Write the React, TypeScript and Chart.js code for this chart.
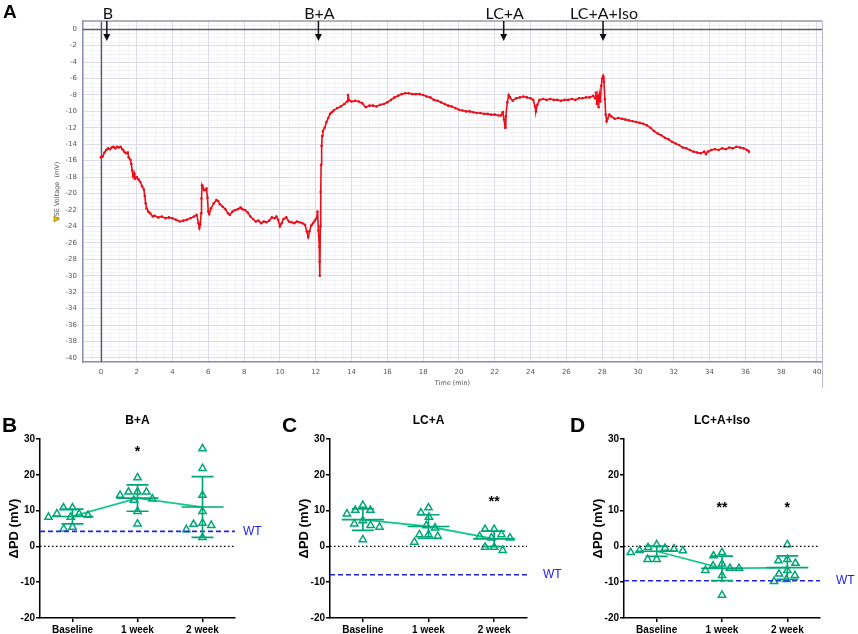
import React, { useEffect, useRef } from 'react';
import { Chart, registerables } from 'chart.js';

Chart.register(...registerables);

// ---------- Panel A: ISE voltage trace ----------
const traceTime = [
  0, 0.1, 0.2, 0.3, 0.4, 0.5, 0.6, 0.7, 0.8, 0.9,
  1.0, 1.1, 1.2, 1.3, 1.4, 1.5, 1.55, 1.65, 1.7, 1.75,
  1.8, 1.85, 1.9, 2.0, 2.1, 2.2, 2.3, 2.4, 2.45, 2.5,
  2.55, 2.65, 2.75, 2.9, 3.0, 3.2, 3.4, 3.6, 3.8, 4.0,
  4.2, 4.4, 4.6, 4.8, 5.0, 5.2, 5.35, 5.45, 5.5, 5.55,
  5.6, 5.62, 5.65, 5.7, 5.8, 5.9, 5.95, 6.0, 6.05, 6.15,
  6.3, 6.45, 6.55, 6.65, 6.8, 6.95, 7.1, 7.2, 7.35, 7.5,
  7.65, 7.8, 7.9, 8.05, 8.2, 8.35, 8.5, 8.65, 8.8, 8.95,
  9.1, 9.25, 9.4, 9.55, 9.7, 9.8, 9.9, 10.0, 10.1, 10.2,
  10.35, 10.5, 10.65, 10.8, 10.95, 11.1, 11.25, 11.4, 11.5, 11.58,
  11.65, 11.75, 11.85, 11.95, 12.05, 12.1, 12.15, 12.2, 12.22, 12.23,
  12.26, 12.28, 12.3, 12.33, 12.36, 12.4, 12.5, 12.6, 12.7, 12.8,
  12.9, 13.0, 13.2, 13.4, 13.6, 13.75, 13.8, 13.85, 14.0, 14.2,
  14.4, 14.6, 14.8, 15.0, 15.2, 15.4, 15.6, 15.8, 16.0, 16.2,
  16.4, 16.6, 16.8, 17.0, 17.2, 17.4, 17.6, 17.8, 18.0, 18.2,
  18.4, 18.6, 18.8, 19.0, 19.2, 19.4, 19.6, 19.8, 20.0, 20.2,
  20.4, 20.6, 20.8, 21.0, 21.2, 21.4, 21.6, 21.8, 22.0, 22.2,
  22.35, 22.45, 22.52, 22.58, 22.62, 22.7, 22.78, 22.85, 23.0, 23.2,
  23.4, 23.6, 23.8, 24.0, 24.15, 24.25, 24.3, 24.38, 24.5, 24.7,
  24.9, 25.1, 25.3, 25.5, 25.7, 25.9, 26.1, 26.3, 26.5, 26.7,
  26.9, 27.1, 27.3, 27.5, 27.6, 27.65, 27.7, 27.75, 27.8, 27.85,
  27.9, 27.95, 28.0, 28.05, 28.1, 28.15, 28.2, 28.25, 28.3, 28.4,
  28.5, 28.7, 28.9, 29.1, 29.3, 29.5, 29.7, 29.9, 30.1, 30.3,
  30.5, 30.7, 30.9, 31.1, 31.3, 31.5, 31.7, 31.9, 32.1, 32.3,
  32.5, 32.7, 32.9, 33.1, 33.3, 33.5, 33.7, 33.8, 33.9, 34.1,
  34.3, 34.5, 34.7, 34.9, 35.1, 35.3, 35.5, 35.7, 35.9, 36.1,
  36.2,
];
const traceMv = [
  -15.6, -15.5, -15.0, -14.7, -14.5, -14.6, -14.4, -14.3, -14.5, -14.3,
  -14.4, -14.3, -14.6, -14.9, -15.1, -15.0, -15.6, -15.9, -16.4, -17.2,
  -17.9, -17.5, -18.2, -18.0, -18.3, -18.6, -19.1, -19.5, -20.3, -21.2,
  -21.8, -22.2, -22.4, -22.8, -22.7, -22.9, -22.8, -23.0, -22.9, -23.0,
  -23.2, -23.4, -23.3, -23.2, -23.0, -22.8, -22.6, -23.6, -24.2, -23.8,
  -22.4, -20.6, -19.0, -19.3, -19.6, -19.4, -20.5, -22.2, -22.5, -21.8,
  -21.2, -20.8, -20.9, -21.3, -21.6, -21.9, -22.4, -22.6, -22.2, -22.0,
  -21.9, -21.7, -21.9, -22.0, -22.3, -22.8, -23.1, -23.4, -23.3, -23.6,
  -23.4, -23.5, -23.3, -22.9, -23.0, -22.8, -23.2, -24.0, -23.6, -23.1,
  -22.9, -23.4, -23.5, -23.6, -23.4, -23.5, -23.6, -23.8, -24.6, -25.3,
  -24.6, -23.9, -23.6, -23.3, -23.0, -22.2, -24.5, -26.5, -28.3, -30.0,
  -24.0, -19.8, -16.5, -14.2, -13.0, -12.4, -12.0, -11.3, -10.8, -10.3,
  -10.1, -9.9, -9.6, -9.4, -9.1, -8.8, -8.0, -8.6, -8.8, -8.7,
  -8.8, -9.0, -9.5, -9.3, -9.3, -9.4, -9.2, -9.1, -8.9, -8.6,
  -8.3, -8.1, -7.9, -7.8, -7.8, -7.9, -7.9, -7.9, -8.0, -8.2,
  -8.3, -8.6, -8.7, -8.9, -9.1, -9.3, -9.4, -9.6, -9.8, -9.9,
  -10.0, -10.0, -10.1, -10.2, -10.2, -10.3, -10.3, -10.4, -10.4, -10.5,
  -10.5, -10.1, -11.0, -12.0, -10.6, -8.9, -8.0, -8.3, -8.7, -8.4,
  -8.3, -8.2, -8.3, -8.4, -8.6, -9.4, -10.0, -9.2, -8.6, -8.5,
  -8.6, -8.5, -8.6, -8.6, -8.7, -8.6, -8.6, -8.5, -8.6, -8.4,
  -8.4, -8.3, -8.3, -8.1, -8.4, -7.7, -9.1, -8.2, -9.5, -8.0,
  -8.8, -6.9, -6.0, -5.7, -6.4, -8.5, -10.4, -11.2, -10.9, -10.4,
  -10.6, -10.9, -10.8, -10.9, -11.0, -11.1, -11.2, -11.3, -11.4, -11.5,
  -11.7, -12.0, -12.4, -12.7, -12.9, -13.2, -13.4, -13.7, -13.9, -14.1,
  -14.4, -14.5, -14.7, -14.9, -15.0, -15.1, -14.9, -15.2, -14.9, -14.7,
  -14.6, -14.7, -14.5, -14.6, -14.4, -14.5, -14.3, -14.4, -14.5, -14.7,
  -14.9,
];
const eventLabels = ['B', 'B+A', 'LC+A', 'LC+A+Iso'];
const eventTimes = [0.33, 12.15, 22.5, 28.05];
const xTicksA = [0, 2, 4, 6, 8, 10, 12, 14, 16, 18, 20, 22, 24, 26, 28, 30, 32, 34, 36, 38, 40];
const yTicksA = [0, -2, -4, -6, -8, -10, -12, -14, -16, -18, -20, -22, -24, -26, -28, -30, -32, -34, -36, -38, -40];

// ---------- Panels B-D: ΔPD ----------
const groupLabels = ['Baseline', '1 week', '2 week'];
const pdTicks = [30, 20, 10, 0, -10, -20];

const bBaseline = [9.1, 8.2, 10.8, 4.9, 8.7, 10.8, 5.4, 8.2, 9.1];
const bWeek1 = [15.2, 14.3, 12.9, 19.2, 9.8, 6.3, 15.2, 13.3, 15.2];
const bWeek2 = [6.2, 27.3, 21.8, 14.3, 9.8, 6.5, 4.7, 2.5, 5.9];
const bWT = 4.2;
const bSig = ['', '*', ''];
const bSigY = [0, 27, 0];

const cBaseline = [10.1, 11.5, 10.1, 9.1, 6.3, 7.2, 5.9, 5.4, 1.9];
const cWeek1 = [3.3, 10.8, 9.4, 8.2, 5.2, 5.8, 2.8, 3.3, 1.2];
const cWeek2 = [3.3, 4.8, 4.8, 2.4, 2.8, 2.4, -1.1, -0.2, -0.2];
const cWT = -7.9;
const cSig = ['', '', '**'];
const cSigY = [0, 0, 13.1];

const dBaseline = [0.5, -1.1, -0.5, -0.3, -1.2, -0.7, -3.6, -3.6, -1.7];
const dWeek1 = [-4.9, -6.1, -2.6, -6.7, -8.1, -1.7, -6.1, -5.4, -13.6];
const dWeek2 = [0.5, -4.0, -3.6, -7.7, -9.8, -8.1, -4.7, -6.7, -9.2];
const dWT = -9.6;
const dSig = ['', '**', '*'];
const dSigY = [0, 11.4, 11.4];

const GREEN = '#00a678';
const LINE_GREEN = '#14c88c';
const WT_BLUE = '#2424e8';
const RED = '#e8101a';
const ARIAL = '"Liberation Sans", Arial, sans-serif';

function mean(a: number[]) {
  return a.reduce((s, v) => s + v, 0) / a.length;
}
function sdev(a: number[]) {
  const m = mean(a);
  return Math.sqrt(a.reduce((s, v) => s + (v - m) * (v - m), 0) / (a.length - 1));
}
// simple beeswarm: horizontal offsets (in category units) so markers do not overlap
function swarm(values: number[], pxPerUnit: number, pxPerCat: number, diam: number) {
  const idx = values.map((_, i) => i).sort((a, b) => values[b] - values[a]);
  const placed: { x: number; y: number }[] = [];
  const out: number[] = new Array(values.length).fill(0);
  for (const i of idx) {
    const y = values[i] * pxPerUnit;
    const cands = [0];
    for (const p of placed) {
      const dy = Math.abs(p.y - y);
      if (dy < diam) {
        const dx = Math.sqrt(diam * diam - dy * dy);
        cands.push(p.x + dx, p.x - dx);
      }
    }
    cands.sort((a, b) => Math.abs(a) - Math.abs(b) || a - b);
    const ok = cands.find((c) => placed.every((p) => (p.x - c) ** 2 + (p.y - y) ** 2 >= diam * diam - 0.01));
    const x = ok === undefined ? 0 : ok;
    placed.push({ x, y });
    out[i] = x / pxPerCat;
  }
  return out;
}

function TraceChart() {
  const ref = useRef<HTMLCanvasElement>(null);
  useEffect(() => {
    const canvas = ref.current!;
    const extras = {
      id: 'traceExtras',
      beforeDraw(chart: any) {
        const { ctx, chartArea: a, scales } = chart;
        const xs = scales.x;
        const ys = scales.y;
        ctx.save();
        ctx.strokeStyle = '#f3f3f7';
        ctx.lineWidth = 1;
        for (let v = Math.ceil(xs.min * 2) / 2; v <= xs.max; v += 0.5) {
          if (Math.abs(v % 2) < 1e-6) continue;
          const px = Math.round(xs.getPixelForValue(v)) + 0.5;
          ctx.beginPath();
          ctx.moveTo(px, a.top);
          ctx.lineTo(px, a.bottom);
          ctx.stroke();
        }
        for (let v = Math.ceil(ys.min * 2) / 2; v <= ys.max; v += 0.5) {
          if (Math.abs(v % 2) < 1e-6) continue;
          const py = Math.round(ys.getPixelForValue(v)) + 0.5;
          ctx.beginPath();
          ctx.moveTo(a.left, py);
          ctx.lineTo(a.right, py);
          ctx.stroke();
        }
        ctx.restore();
      },
      beforeDatasetsDraw(chart: any) {
        const { ctx, chartArea: a, scales } = chart;
        const x0 = Math.round(scales.x.getPixelForValue(0)) + 0.5;
        const y0 = Math.round(scales.y.getPixelForValue(0)) + 0.5;
        ctx.save();
        ctx.strokeStyle = '#5a5a66';
        ctx.lineWidth = 1.3;
        ctx.beginPath();
        ctx.moveTo(x0, a.top);
        ctx.lineTo(x0, a.bottom);
        ctx.moveTo(a.left, y0);
        ctx.lineTo(a.right, y0);
        ctx.stroke();
        ctx.restore();
      },
      afterDraw(chart: any) {
        const { ctx, chartArea: a, scales } = chart;
        const xs = scales.x;
        ctx.save();
        // frame top and right
        ctx.strokeStyle = '#9a9aa8';
        ctx.lineWidth = 1.5;
        ctx.beginPath();
        ctx.moveTo(a.left, a.top);
        ctx.lineTo(a.right, a.top);
        ctx.stroke();
        ctx.strokeStyle = '#b8b8e0';
        ctx.lineWidth = 1;
        ctx.beginPath();
        ctx.moveTo(a.right + 0.5, a.top);
        ctx.lineTo(a.right + 0.5, 388);
        ctx.stroke();
        // event arrows
        ctx.fillStyle = '#111';
        ctx.strokeStyle = '#111';
        ctx.lineWidth = 1.5;
        ctx.font = '16px Lato, "Open Sans", sans-serif';
        ctx.textAlign = 'center';
        ctx.textBaseline = 'alphabetic';
        eventTimes.forEach((t, i) => {
          const x = xs.getPixelForValue(t);
          ctx.fillText(eventLabels[i], x + 1, 19);
          ctx.beginPath();
          ctx.moveTo(x, 21);
          ctx.lineTo(x, 35);
          ctx.stroke();
          ctx.beginPath();
          ctx.moveTo(x - 3.5, 34);
          ctx.lineTo(x + 3.5, 34);
          ctx.lineTo(x, 41);
          ctx.closePath();
          ctx.fill();
        });
        // axis titles
        ctx.fillStyle = '#555';
        ctx.font = '6.5px "DejaVu Sans", sans-serif';
        ctx.textBaseline = 'middle';
        ctx.fillText('Time (min)', (a.left + a.right) / 2, 383);
        ctx.save();
        ctx.translate(57, 190);
        ctx.rotate(-Math.PI / 2);
        ctx.fillText('ISE Voltage  (mV)', 0, 0);
        ctx.restore();
        // warning icon
        ctx.beginPath();
        ctx.moveTo(54, 216);
        ctx.lineTo(54, 222);
        ctx.lineTo(59.5, 219);
        ctx.closePath();
        ctx.fillStyle = '#f0c000';
        ctx.fill();
        ctx.strokeStyle = '#8a6a00';
        ctx.lineWidth = 0.6;
        ctx.stroke();
        // panel letter
        ctx.fillStyle = '#000';
        ctx.font = `bold 19px ${ARIAL}`;
        ctx.textAlign = 'left';
        ctx.textBaseline = 'alphabetic';
        ctx.fillText('A', 3, 18);
        ctx.restore();
      },
    };
    const tickFont = { family: '"DejaVu Sans", sans-serif', size: 7 };
    const chart = new Chart(canvas, {
      type: 'line',
      data: {
        datasets: [
          {
            data: traceTime.map((t, i) => ({ x: t, y: traceMv[i] })),
            borderColor: RED,
            backgroundColor: RED,
            borderWidth: 1.6,
            pointRadius: 1.3,
            pointBorderWidth: 0,
            pointBackgroundColor: RED,
            tension: 0,
          },
        ],
      },
      options: {
        responsive: false,
        animation: false,
        events: [],
        layout: { padding: { left: 0, right: 36, top: 21, bottom: 0 } },
        plugins: { legend: { display: false }, tooltip: { enabled: false } },
        scales: {
          x: {
            type: 'linear',
            min: -1,
            max: 40.28,
            afterBuildTicks: (s: any) => {
              s.ticks = xTicksA.map((v) => ({ value: v }));
            },
            afterFit: (s: any) => {
              s.height = 33;
            },
            ticks: { font: tickFont, color: '#555', padding: 6, maxRotation: 0, autoSkip: false },
            grid: { color: '#dcdce6', lineWidth: 1, drawTicks: false },
            border: { display: true, color: '#8c8cb4', width: 1.5 },
          },
          y: {
            min: -40.5,
            max: 1,
            afterBuildTicks: (s: any) => {
              s.ticks = yTicksA.map((v) => ({ value: v }));
            },
            afterFit: (s: any) => {
              s.width = 83;
            },
            ticks: { font: tickFont, color: '#555', padding: 6, autoSkip: false },
            grid: { color: '#dcdce6', lineWidth: 1, drawTicks: false },
            border: { display: true, color: '#8c8cb4', width: 1.5 },
          },
        },
      },
      plugins: [extras],
    } as any);
    return () => chart.destroy();
  }, []);
  return (
    <canvas
      ref={ref}
      width={858}
      height={395}
      style={{ position: 'absolute', left: 0, top: 0, width: 858, height: 395 }}
    />
  );
}

type PanelCfg = {
  letter: string;
  title: string;
  groups: number[][];
  wt: number;
  sig: string[];
  sigY: number[];
  left: number;
  width: number;
  axisW: number;
  padR: number;
  wtDx: number;
};

function PanelChart({ cfg }: { cfg: PanelCfg }) {
  const ref = useRef<HTMLCanvasElement>(null);
  useEffect(() => {
    const canvas = ref.current!;
    const means = cfg.groups.map(mean);
    const sds = cfg.groups.map(sdev);
    const pts = cfg.groups.flatMap((vals, gi) => {
      const offs = swarm(vals, 179 / 50, 65, 9);
      return vals.map((v, k) => ({ x: gi + offs[k], y: v }));
    });
    const font = { family: ARIAL, size: 10, weight: 'bold' as const };
    const axisGrid = {
      display: true,
      drawOnChartArea: false,
      drawTicks: true,
      tickLength: 4,
      color: '#000',
      lineWidth: 1.5,
    };
    const extras = {
      id: 'panelExtras',
      afterDatasetsDraw(chart: any) {
        const { ctx, scales } = chart;
        const xs = scales.x;
        const ys = scales.y;
        ctx.save();
        ctx.strokeStyle = GREEN;
        ctx.lineWidth = 1.7;
        means.forEach((m, i) => {
          const cx = xs.getPixelForValue(i);
          const py = ys.getPixelForValue(m);
          const hi = ys.getPixelForValue(m + sds[i]);
          const lo = ys.getPixelForValue(m - sds[i]);
          ctx.beginPath();
          ctx.moveTo(cx - 21, py);
          ctx.lineTo(cx + 21, py);
          ctx.moveTo(cx, hi);
          ctx.lineTo(cx, lo);
          ctx.moveTo(cx - 11, hi);
          ctx.lineTo(cx + 11, hi);
          ctx.moveTo(cx - 11, lo);
          ctx.lineTo(cx + 11, lo);
          ctx.stroke();
        });
        ctx.restore();
      },
      afterDraw(chart: any) {
        const { ctx, chartArea: a, scales } = chart;
        const xs = scales.x;
        const ys = scales.y;
        ctx.save();
        ctx.fillStyle = '#000';
        ctx.textBaseline = 'alphabetic';
        ctx.textAlign = 'left';
        ctx.font = `bold 21px ${ARIAL}`;
        ctx.fillText(cfg.letter, 2, 32);
        ctx.textAlign = 'center';
        ctx.font = `bold 12px ${ARIAL}`;
        ctx.fillText(cfg.title, (a.left + a.right) / 2, 24);
        // y title
        ctx.save();
        ctx.translate(a.left - 26, (a.top + a.bottom) / 2);
        ctx.rotate(-Math.PI / 2);
        ctx.textBaseline = 'middle';
        ctx.font = `bold 13px ${ARIAL}`;
        ctx.fillText('ΔPD (mV)', 0, 0);
        ctx.restore();
        // significance stars
        ctx.font = `bold 14px ${ARIAL}`;
        ctx.textBaseline = 'middle';
        cfg.sig.forEach((s, i) => {
          if (!s) return;
          ctx.fillText(s, xs.getPixelForValue(i), ys.getPixelForValue(cfg.sigY[i]) + 2.8);
        });
        // WT label
        ctx.fillStyle = WT_BLUE;
        ctx.textAlign = 'left';
        ctx.font = `12px ${ARIAL}`;
        ctx.fillText('WT', a.right + cfg.wtDx, ys.getPixelForValue(cfg.wt));
        ctx.restore();
      },
    };
    const chart = new Chart(canvas, {
      type: 'scatter',
      data: {
        datasets: [
          {
            type: 'line',
            data: [
              { x: -0.5, y: 0 },
              { x: 2.5, y: 0 },
            ],
            borderColor: '#000',
            borderWidth: 1.2,
            borderDash: [1.5, 2.5],
            pointRadius: 0,
          },
          {
            type: 'line',
            data: [
              { x: -0.5, y: cfg.wt },
              { x: 2.5, y: cfg.wt },
            ],
            borderColor: WT_BLUE,
            borderWidth: 1.6,
            borderDash: [5, 3],
            pointRadius: 0,
          },
          {
            type: 'scatter',
            data: pts,
            pointStyle: 'triangle',
            pointRadius: 4.2,
            pointBorderColor: GREEN,
            pointBackgroundColor: 'rgba(255,255,255,0)',
            pointBorderWidth: 1.5,
            borderColor: GREEN,
            backgroundColor: 'rgba(255,255,255,0)',
          },
          {
            type: 'line',
            data: means.map((m, i) => ({ x: i, y: m })),
            borderColor: LINE_GREEN,
            borderWidth: 1.8,
            pointRadius: 0,
          },
        ],
      },
      options: {
        responsive: false,
        animation: false,
        events: [],
        layout: { padding: { left: 0, right: cfg.padR, top: 39, bottom: 0 } },
        plugins: { legend: { display: false }, tooltip: { enabled: false } },
        scales: {
          x: {
            type: 'linear',
            min: -0.5,
            max: 2.5,
            afterBuildTicks: (s: any) => {
              s.ticks = groupLabels.map((_, i) => ({ value: i }));
            },
            afterFit: (s: any) => {
              s.height = 16;
            },
            ticks: {
              font,
              color: '#000',
              padding: 2,
              maxRotation: 0,
              autoSkip: false,
              callback: (v: any) => groupLabels[v as number] ?? '',
            },
            grid: axisGrid,
            border: { display: true, color: '#000', width: 1.5 },
          },
          y: {
            min: -20,
            max: 30,
            afterBuildTicks: (s: any) => {
              s.ticks = pdTicks.map((v) => ({ value: v }));
            },
            afterFit: (s: any) => {
              s.width = cfg.axisW;
            },
            ticks: { font, color: '#000', padding: 1, autoSkip: false },
            grid: axisGrid,
            border: { display: true, color: '#000', width: 1.5 },
          },
        },
      },
      plugins: [extras],
    } as any);
    return () => chart.destroy();
  }, [cfg]);
  return (
    <canvas
      ref={ref}
      width={cfg.width}
      height={234}
      style={{ position: 'absolute', left: cfg.left, top: 400, width: cfg.width, height: 234 }}
    />
  );
}

const panelB: PanelCfg = {
  letter: 'B', title: 'B+A', groups: [bBaseline, bWeek1, bWeek2], wt: bWT, sig: bSig, sigY: bSigY,
  left: 0, width: 280, axisW: 40, padR: 45, wtDx: 8,
};
const panelC: PanelCfg = {
  letter: 'C', title: 'LC+A', groups: [cBaseline, cWeek1, cWeek2], wt: cWT, sig: cSig, sigY: cSigY,
  left: 280, width: 290, axisW: 50, padR: 43, wtDx: 16,
};
const panelD: PanelCfg = {
  letter: 'D', title: 'LC+A+Iso', groups: [dBaseline, dWeek1, dWeek2], wt: dWT, sig: dSig, sigY: dSigY,
  left: 568, width: 290, axisW: 56, padR: 38, wtDx: 16,
};

export default function App() {
  return (
    <div style={{ position: 'absolute', left: 0, top: 0, width: 858, height: 634, background: '#fff', overflow: 'hidden' }}>
      <TraceChart />
      <PanelChart cfg={panelB} />
      <PanelChart cfg={panelC} />
      <PanelChart cfg={panelD} />
    </div>
  );
}
